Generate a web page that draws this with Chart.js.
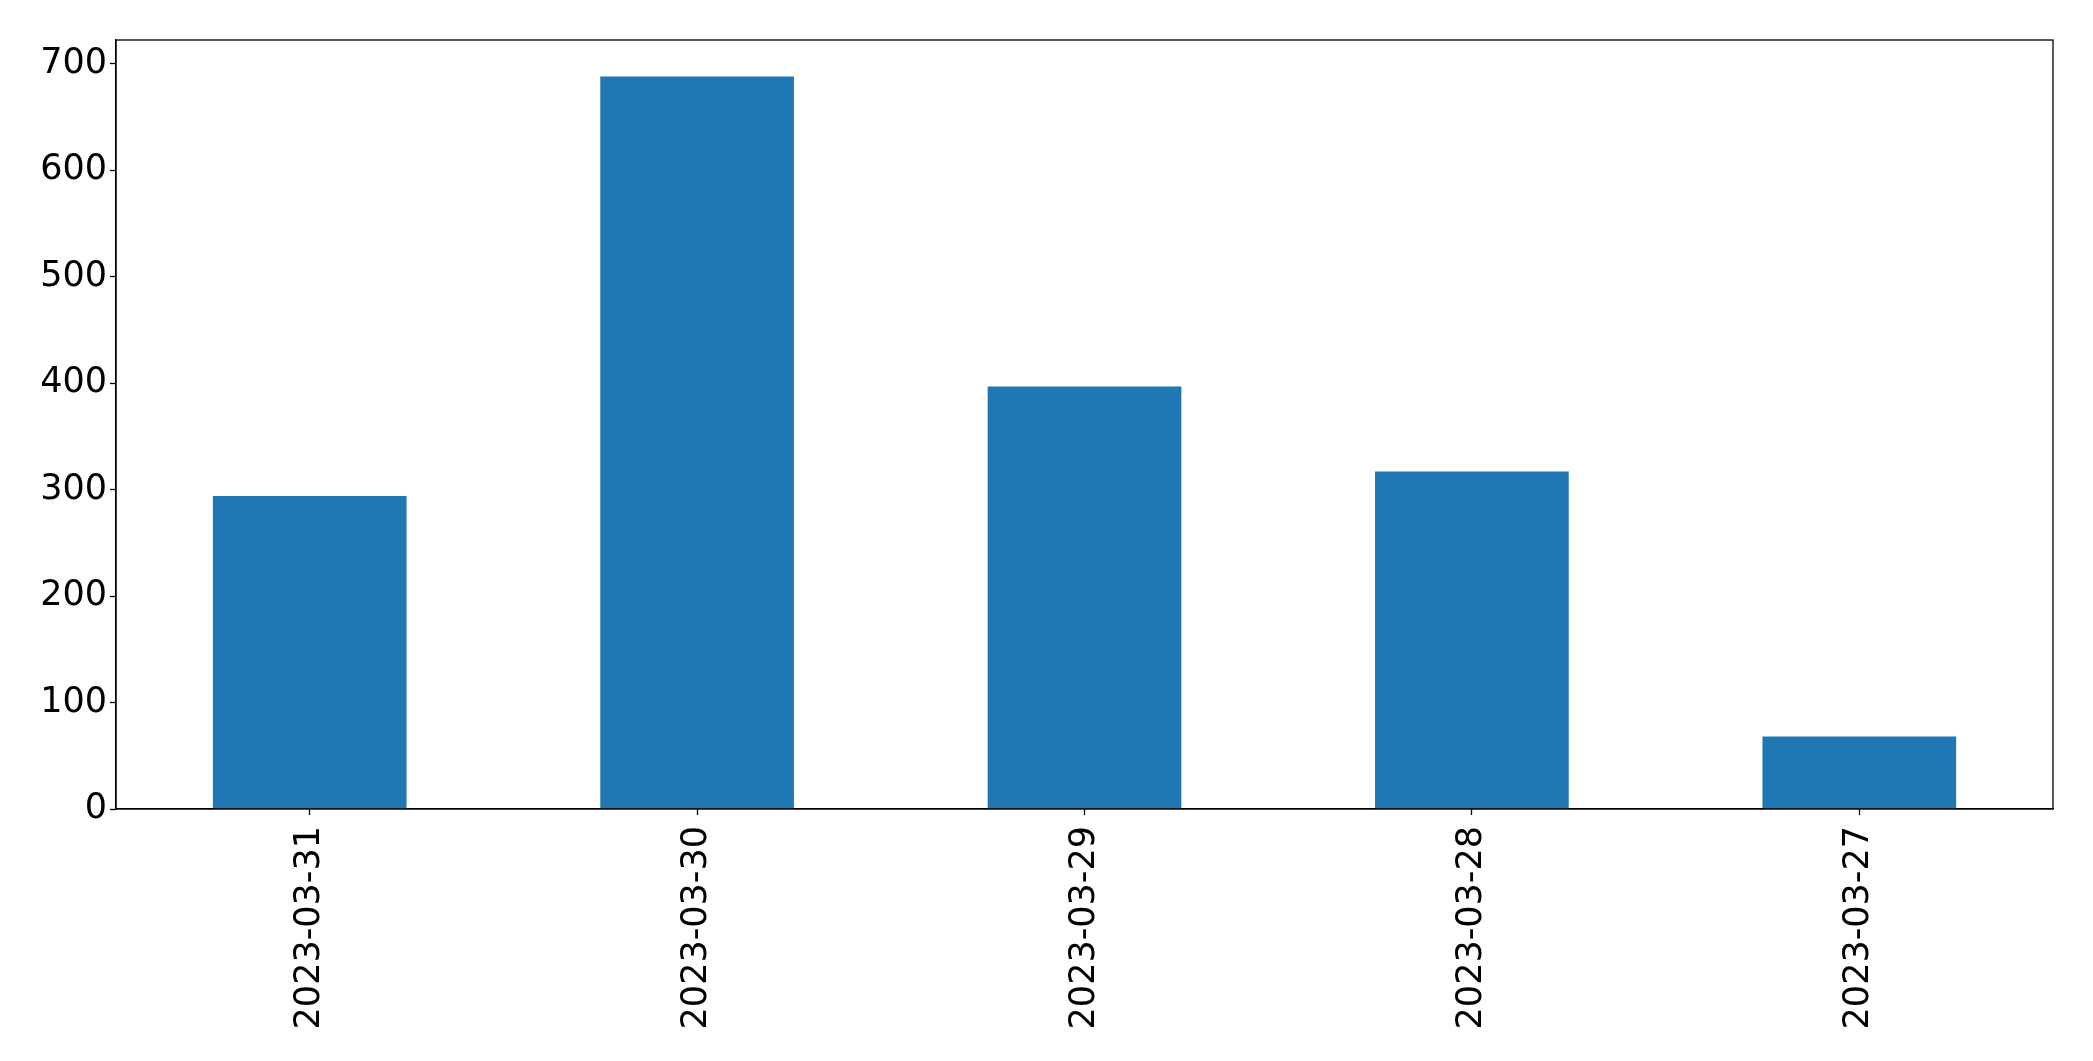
<!DOCTYPE html>
<html>
<head>
<meta charset="utf-8">
<script src="https://cdn.jsdelivr.net/npm/chart.js@4/dist/chart.umd.min.js"></script>
<style>
html,body{margin:0;padding:0;background:#fff;}
#wrap{width:2093px;height:1061px;position:relative;}
</style>
</head>
<body>
<div id="wrap"><canvas id="c" width="2093" height="1061"></canvas></div>
<script>
const categories = ["2023-03-31", "2023-03-30", "2023-03-29", "2023-03-28", "2023-03-27"];
const values = [294, 688, 397, 317, 68];
const yTicks = [0, 100, 200, 300, 400, 500, 600, 700];
const yMax = 722.4;

const framePlugin = {
  id: 'frame',
  afterDraw(chart) {
    const a = chart.chartArea, ctx = chart.ctx;
    ctx.save();
    ctx.strokeStyle = '#000';
    ctx.lineWidth = 1.3;
    ctx.strokeRect(a.left, a.top, a.right - a.left, a.bottom - a.top);
    ctx.restore();
  }
};
const bgPlugin = {
  id: 'bg',
  beforeDraw(chart) {
    const ctx = chart.ctx;
    ctx.save();
    ctx.fillStyle = '#fff';
    ctx.fillRect(0, 0, chart.width, chart.height);
    ctx.restore();
  }
};

new Chart(document.getElementById('c'), {
  type: 'bar',
  data: {
    labels: categories,
    datasets: [{
      data: values,
      backgroundColor: '#1f77b4',
      borderWidth: 0,
      barPercentage: 0.5,
      categoryPercentage: 1.0
    }]
  },
  options: {
    responsive: false,
    animation: false,
    devicePixelRatio: 1,
    layout: { padding: { top: 40, right: 40, left: 0, bottom: 0 } },
    plugins: { legend: { display: false }, tooltip: { enabled: false } },
    scales: {
      x: {
        grid: { display: true, offset: false, drawOnChartArea: false, drawTicks: true, tickLength: 6, tickColor: '#000', tickWidth: 1.3 },
        border: { display: true, color: '#000', width: 1.3 },
        ticks: {
          color: '#000',
          font: { family: 'DejaVu Sans', size: 35 },
          maxRotation: 90, minRotation: 90,
          autoSkip: false,
          padding: 11
        },
        afterFit(scale) { scale.height = 252; }
      },
      y: {
        min: 0, max: yMax,
        afterBuildTicks(scale) { scale.ticks = yTicks.map(v => ({ value: v })); },
        grid: { display: true, drawOnChartArea: false, drawTicks: true, tickLength: 6, tickColor: '#000', tickWidth: 1.3 },
        border: { display: true, color: '#000', width: 1.3 },
        ticks: {
          color: '#000',
          font: { family: 'DejaVu Sans', size: 35 },
          padding: 3
        },
        afterFit(scale) { scale.width = 116; }
      }
    }
  },
  plugins: [bgPlugin, framePlugin]
});
</script>
</body>
</html>
